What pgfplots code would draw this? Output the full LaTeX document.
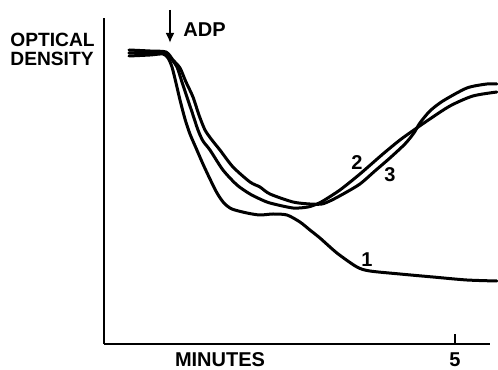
\documentclass[border=0pt]{standalone}
\usepackage{pgfplots}
\pgfplotsset{compat=1.18}
\usetikzlibrary{arrows.meta}
\usepackage{fontspec}
\setmainfont{Liberation Sans}
\newcommand\lbl{\fontsize{10bp}{10bp}\selectfont\bfseries}
\tikzset{crv/.style={black, line width=1.5bp, smooth, tension=0.45, line join=round, line cap=round}}
\begin{document}
\begin{tikzpicture}
\path[use as bounding box] (-52bp,-13bp) rectangle (197bp,172bp);
\begin{axis}[
  scale only axis, width=193bp, height=163bp,
  xmin=0, xmax=5.5, ymin=0, ymax=3.26,
  axis x line=bottom, axis y line=left,
  axis line style={-, line width=1.4bp},
  ytick=\empty, xtick={5}, xticklabels={\lbl 5},
  tick align=inside, major tick length=5bp,
  tick style={black, line width=1.2bp},
  xticklabel style={yshift=-1bp},
  clip=false,
]
% curve 1
\addplot[crv] coordinates {
(0.356,2.88) (0.655,2.89) (0.840,2.90) (0.912,2.86) (0.969,2.77) (1.026,2.61)
(1.083,2.44) (1.154,2.25) (1.225,2.10) (1.311,1.96) (1.410,1.80) (1.510,1.65)
(1.610,1.51) (1.709,1.41) (1.823,1.35) (2.037,1.31) (2.222,1.29) (2.407,1.30)
(2.607,1.29) (2.792,1.22) (2.934,1.14) (3.077,1.06) (3.319,0.91) (3.604,0.77)
(3.789,0.73) (4.217,0.70) (4.687,0.67) (5.171,0.64) (5.598,0.63)};
% curve 2
\addplot[crv] coordinates {
(0.356,2.91) (0.655,2.91) (0.883,2.90) (0.969,2.84) (1.040,2.77) (1.111,2.62)
(1.182,2.47) (1.254,2.32) (1.339,2.14) (1.410,2.03) (1.510,1.94) (1.695,1.74)
(1.895,1.59) (2.080,1.50) (2.222,1.45) (2.365,1.41) (2.692,1.36) (2.906,1.37)
(3.034,1.40) (3.120,1.43) (3.362,1.54) (3.647,1.70) (3.974,1.90) (4.217,2.04)
(4.416,2.14) (4.601,2.23) (4.929,2.38) (5.256,2.48) (5.598,2.52)};
% curve 3
\addplot[crv] coordinates {
(0.356,2.94) (0.655,2.93) (0.883,2.92) (0.983,2.84) (1.083,2.76) (1.168,2.62)
(1.268,2.47) (1.353,2.29) (1.439,2.14) (1.538,2.04) (1.652,1.94) (1.838,1.77)
(2.080,1.62) (2.222,1.57) (2.365,1.50) (2.692,1.42) (2.934,1.40) (3.105,1.40)
(3.248,1.44) (3.433,1.51) (3.647,1.60) (3.860,1.73) (4.074,1.86) (4.288,2.00)
(4.416,2.11) (4.501,2.21) (4.644,2.33) (4.829,2.43) (5.171,2.56) (5.456,2.60)
(5.598,2.60)};
\node[font=\lbl] at (axis cs:3.746,0.84) {1};
\node[font=\lbl] at (axis cs:3.604,1.81) {2};
\node[font=\lbl] at (axis cs:4.074,1.69) {3};
\end{axis}
\draw[line width=1.2bp, -{Latex[length=5bp,width=4.5bp]}] (33bp,167bp) -- (33bp,150.5bp);
\node[font=\lbl, anchor=west, inner sep=0pt] at (39.5bp,157bp) {ADP};
\node[font=\fontsize{9.6bp}{9.6bp}\selectfont\bfseries, anchor=west, align=left, inner sep=0pt] at (-47bp,147.5bp) {OPTICAL\\DENSITY};
\node[font=\lbl] at (58bp,-8bp) {MINUTES};
\end{tikzpicture}
\end{document}
